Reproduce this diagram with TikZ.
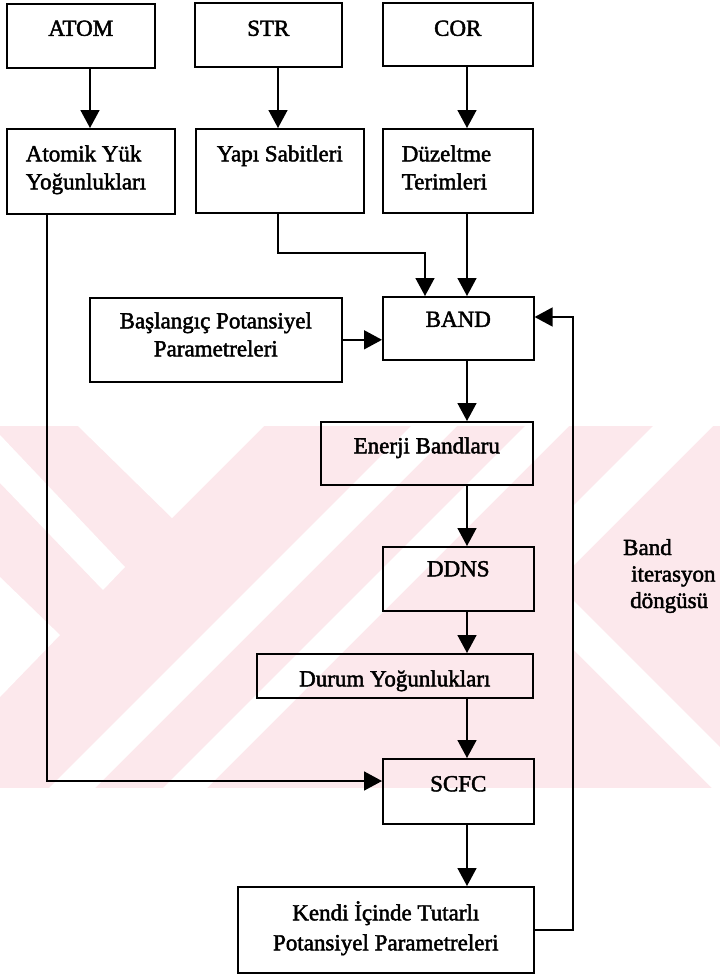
\documentclass[tikz,border=0pt]{standalone}
\usepackage{fontspec}
\setmainfont{Liberation Serif}[FakeBold=2]
\usetikzlibrary{arrows.meta}
\definecolor{wm}{RGB}{252,232,236}
\begin{document}
\begin{tikzpicture}[x=1pt,y=-1pt,
  box/.style={draw, line width=1.6pt, rectangle, anchor=north west,
    inner ysep=0pt, inner xsep=0pt, font=\fontsize{23}{28}\selectfont},
  arr/.style={line width=1.6pt, -{Triangle[length=18pt,width=19pt]}},
  lbl/.style={font=\fontsize{23}{26.5}\selectfont, inner sep=0pt}]
\useasboundingbox (0,0) rectangle (720,975);
% faint background watermark
\begin{scope}
  \clip (0,426) rectangle (720,788);
  \fill[wm] (0,426) rectangle (720,788);
  \fill[white] (78,426) -- (264,426) -- (172,518) -- cycle;
  \fill[white] (0,435) -- (125,567) -- (103,590) -- (0,483) -- cycle;
  \fill[white] (0,577) -- (60,635) -- (0,697) -- cycle;
  \fill[white] (49,788) -- (411,426) -- (457,426) -- (95,788) -- cycle;
  \fill[white] (163,788) -- (525,426) -- (569,426) -- (207,788) -- cycle;
  \fill[white] (573,600) -- (740,767) -- (740,816) -- (573,649) -- cycle;
  \fill[white] (573,506) -- (653,426) -- (713,426) -- (573,566) -- cycle;
\end{scope}
% column coordinates
\coordinate (xA) at (90,0);
\coordinate (xS) at (278,0);
\coordinate (xC) at (467,0);
\coordinate (xY) at (425,0);
\coordinate (xL) at (47,0);
\coordinate (xR) at (573,0);
\coordinate (yT) at (0,253);
\coordinate (yS) at (0,781);
\coordinate (yB) at (0,317);
% boxes
\node[box, text width=148pt, align=flush center, text height=32pt, text depth=32pt] (atom) at (6,3) {ATOM};
\node[box, text width=147pt, align=flush center, text height=33pt, text depth=31pt] (str) at (194,2) {STR};
\node[box, text width=150pt, align=flush center, text height=33pt, text depth=30pt] (cor) at (382,2) {COR};
\node[box, inner xsep=19pt, text width=130pt, align=flush left, text height=32.5pt, text depth=52.5pt] (atomik) at (6,128) {Atomik Yük\\Yoğunlukları};
\node[box, text width=168pt, align=flush center, text height=32.5pt, text depth=51.5pt] (yapi) at (195,128) {Yapı Sabitleri};
\node[box, inner xsep=19pt, text width=112pt, align=flush left, text height=32.5pt, text depth=51.5pt] (duz) at (382,128) {Düzeltme\\Terimleri};
\node[box, text width=252pt, align=flush center, text height=30.5pt, text depth=53.5pt] (basl) at (89,297) {Başlangıç Potansiyel\\Parametreleri};
\node[box, text width=151pt, align=flush center, text height=30pt, text depth=33pt] (band) at (382,296) {BAND};
\node[box, text width=212pt, align=flush center, text height=31.5pt, text depth=31.5pt] (enerji) at (320,421) {Enerji Bandlaru};
\node[box, text width=151pt, align=flush center, text height=29.5pt, text depth=34.5pt] (ddns) at (382,546) {DDNS};
\node[box, text width=276pt, align=flush center, text height=32.5pt, text depth=11.5pt] (durum) at (256,653) {Durum Yoğunlukları};
\node[box, text width=151pt, align=flush center, text height=32.5pt, text depth=32.5pt] (scfc) at (382,758) {SCFC};
\node[box, text width=296pt, align=flush center, text height=33.5pt, text depth=52.5pt] (kendi) at (237,886) {Kendi İçinde Tutarlı\\[2pt]Potansiyel Parametreleri};
% loop label
\node[lbl, anchor=base west, text width=100pt, align=flush left] (loop) at (623,555) {Band\\\hspace*{8pt}iterasyon\\\hspace*{7pt}döngüsü};
% connectors
\draw[arr] (atom.south -| xA) -- (atomik.north -| xA);
\draw[arr] (str.south -| xS) -- (yapi.north -| xS);
\draw[arr] (cor.south -| xC) -- (duz.north -| xC);
\draw[arr] (yapi.south -| xS) |- (xY |- yT) -- (band.north -| xY);
\draw[arr] (duz.south -| xC) -- (band.north -| xC);
\draw[arr] (basl.east) -- (basl.east -| band.west);
\draw[arr] (band.south -| xC) -- (enerji.north -| xC);
\draw[arr] (enerji.south -| xC) -- (ddns.north -| xC);
\draw[arr] (ddns.south -| xC) -- (durum.north -| xC);
\draw[arr] (durum.south -| xC) -- (scfc.north -| xC);
\draw[arr] (scfc.south -| xC) -- (kendi.north -| xC);
\draw[arr] (atomik.south -| xL) |- (scfc.west |- yS);
\draw[arr] (kendi.east) -| (xR |- yB) -- (band.east |- yB);
\end{tikzpicture}
\end{document}
